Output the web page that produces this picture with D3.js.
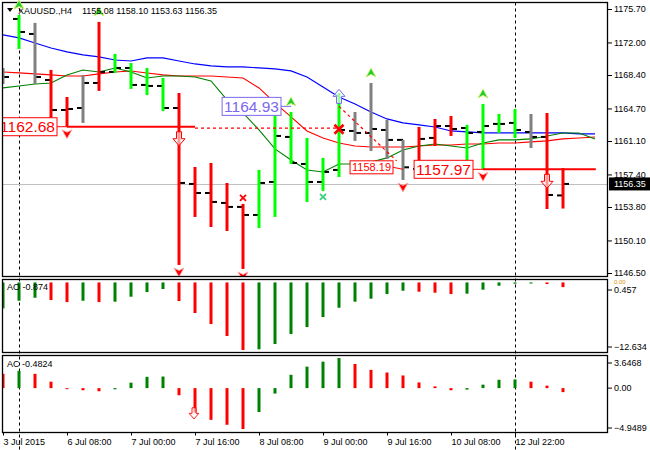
<!DOCTYPE html>
<html><head><meta charset="utf-8">
<script src="https://cdn.jsdelivr.net/npm/d3@7"></script>
<style>
body{margin:0;background:#fff}
svg{display:block}
text{font-family:"Liberation Sans",Arial,sans-serif}
</style>
</head><body>
<svg id="c" width="650" height="450"></svg>
<script>
// ---------------- data ----------------
const symbol = "XAUUSD.,H4";
const lastOHLC = ["1155.08", "1158.10", "1153.63", "1156.35"];
const timeIdx = [0, 4, 8, 12, 16, 20, 24, 28, 32];
const timeText = ["3 Jul 2015", "6 Jul 08:00", "7 Jul 00:00", "7 Jul 16:00", "8 Jul 08:00",
                  "9 Jul 00:00", "9 Jul 16:00", "10 Jul 08:00", "12 Jul 22:00"];
const priceTicks = [1175.70, 1172.00, 1168.40, 1164.70, 1161.10, 1157.40, 1153.80, 1150.10, 1146.50];
const lastPrice = 1156.35;

const open  = [1168.41,1174.60,1172.94,1167.85,1164.53,1164.75,1167.52,1168.74,1169.18,1167.30,1167.19,1164.75,1156.35,1155.35,1154.25,1153.81,1152.92,1156.57,1161.55,1158.56,1156.57,1157.90,1162.21,1161.99,1162.32,1161.22,1158.01,1161.44,1162.76,1162.54,1162.10,1162.99,1163.10,1162.10,1161.55,1155.08];
const high  = [1169.18,1175.04,1174.16,1168.96,1165.97,1168.41,1174.27,1170.73,1169.73,1169.18,1168.07,1166.41,1158.23,1158.67,1156.46,1154.14,1157.90,1164.20,1164.31,1161.44,1159.23,1166.41,1164.31,1167.52,1163.43,1161.22,1162.65,1163.54,1163.87,1162.88,1165.20,1164.09,1164.64,1164.09,1164.20,1158.10];
const low   = [1167.41,1171.28,1167.41,1163.21,1162.68,1163.10,1166.64,1168.63,1166.86,1166.19,1164.42,1147.39,1152.70,1151.59,1151.15,1146.95,1151.48,1152.70,1158.56,1154.36,1155.58,1157.12,1161.11,1160.00,1159.11,1156.79,1157.35,1160.55,1161.66,1158.67,1157.97,1161.99,1161.44,1160.33,1153.58,1153.63];
const close = [1168.18,1173.16,1168.18,1164.53,1164.64,1167.52,1168.74,1169.18,1167.30,1167.19,1164.75,1156.46,1155.35,1154.36,1153.81,1152.92,1156.46,1161.66,1158.67,1156.57,1157.68,1162.32,1161.99,1162.43,1161.22,1158.19,1161.33,1162.76,1162.43,1161.99,1162.76,1162.99,1162.32,1161.55,1155.13,1156.35];
// bar zone colour: g = AO & AC up, r = AO & AC down, n = mixed
const zone = ["n","g","n","r","r","n","r","g","g","g","g","r","r","r","r","r","g","g","g","g","g","g","n","n","n","n","r","r","r","g","g","g","g","n","r","r"];

// Alligator lines (shifted, extend beyond last bar)
const jaw   = [1172.83,1172.50,1171.94,1171.39,1170.95,1170.62,1170.40,1170.06,1169.95,1170.29,1170.29,1169.95,1169.62,1169.40,1169.29,1169.29,1169.18,1169.07,1168.85,1168.18,1167.08,1165.97,1165.20,1164.31,1163.54,1163.10,1162.88,1162.65,1162.21,1162.10,1161.99,1161.99,1161.99,1161.99,1161.99,1161.99,1161.88,1161.88];
const teeth = [1168.74,1168.63,1168.52,1168.41,1168.29,1168.29,1168.52,1168.74,1168.85,1168.63,1168.41,1168.29,1168.29,1168.29,1168.18,1168.07,1166.97,1165.31,1163.76,1162.21,1161.44,1160.88,1160.55,1160.44,1160.44,1160.44,1160.55,1160.66,1160.66,1160.77,1160.77,1160.88,1160.88,1161.00,1161.11,1161.33,1161.44,1161.55];
const lips  = [1166.97,1167.19,1167.41,1167.52,1168.41,1168.96,1168.74,1169.18,1168.74,1168.07,1168.29,1168.29,1168.18,1167.74,1165.64,1164.20,1162.32,1160.22,1159.00,1157.90,1157.68,1158.56,1158.56,1158.78,1159.23,1160.11,1160.55,1160.77,1160.55,1160.33,1160.88,1161.22,1161.22,1161.33,1161.66,1161.99,1161.99,1161.33];

const ao = [-4.85,-3.42,-2.86,-3.29,-3.67,-3.42,-3.67,-3.60,-2.67,-1.80,-1.23,-3.48,-5.72,-7.78,-10.02,-12.634,-12.50,-11.52,-9.65,-8.34,-6.47,-4.73,-3.60,-3.04,-2.17,-1.55,-1.73,-1.92,-2.17,-2.10,-1.36,-0.61,-0.24,-0.20,-0.30,-0.874];
const ac = [1.73,2.09,1.73,0.78,-0.08,-0.26,-0.38,-0.14,0.66,1.37,1.40,-0.86,-2.96,-3.84,-4.44,-4.9489,-2.89,-0.66,1.61,2.60,3.20,3.6468,2.92,2.21,1.89,1.53,0.69,0.21,-0.26,-0.18,0.42,1.01,1.05,0.78,0.30,-0.4824];
const aoRange = [-12.634, 0.457];
const acRange = [-4.9489, 3.6468];

const fractalUp = [1, 6, 18, 23, 30];
const fractalDown = [4, 11, 15, 25, 30];
const separators = [1, 32];

const levels = [
  {label: "1162.68", price: 1162.68, bar: 4},
  {label: "1164.93", price: 1164.93, bar: 18},
  {label: "1158.19", price: 1158.19, bar: 25},
  {label: "1157.97", price: 1157.97, bar: 30}
];
const signalsDown = [{bar: 11, price: 1162.68}, {bar: 34, price: 1157.97}];
const signalsUp = [{bar: 21, price: 1164.93}];
const crosses = [{bar: 15, price: 1154.80, kind: "r"}, {bar: 21, price: 1162.40, kind: "R"}, {bar: 20, price: 1154.91, kind: "c"}];

// ---------------- drawing ----------------
const svg = d3.select("#c");
const C = {green: "#00ff00", red: "#ff0000", grey: "#808080", dgreen: "#008000"};
const zoneColor = {g: C.green, r: C.red, n: C.grey};

const x = d3.scaleLinear().domain([0, 35]).range([3, 563]);
const y = d3.scaleLinear().domain([1146.50, 1175.70]).range([273, 9]);
const yAO = d3.scaleLinear().domain(aoRange).range([350, 280]);
const yAC = d3.scaleLinear().domain(acRange).range([429, 358]);

const P = {l: 2.5, r: 607.5, mt: 2.5, mb: 276.5, at: 279.5, ab: 352.5, ct: 355.5, cb: 432.5};

const defs = svg.append("defs");
defs.append("clipPath").attr("id", "cm").append("rect").attr("x", 3).attr("y", 3).attr("width", 604).attr("height", 273);
defs.append("clipPath").attr("id", "ca").append("rect").attr("x", 3).attr("y", 280).attr("width", 604).attr("height", 72);
defs.append("clipPath").attr("id", "cc").append("rect").attr("x", 3).attr("y", 356).attr("width", 604).attr("height", 76);

svg.append("rect").attr("width", 650).attr("height", 450).attr("fill", "#fff");

// separators
svg.append("g").selectAll("line").data(separators).join("line")
  .attr("x1", d => x(d) + 0.5).attr("x2", d => x(d) + 0.5)
  .attr("y1", P.mt).attr("y2", 450)
  .attr("stroke", "#000").attr("stroke-width", 1).attr("stroke-dasharray", "3,3");

const gm = svg.append("g").attr("clip-path", "url(#cm)");

// current price line
gm.append("line").attr("x1", 0).attr("x2", 608)
  .attr("y1", Math.round(y(lastPrice)) + 0.5).attr("y2", Math.round(y(lastPrice)) + 0.5)
  .attr("stroke", "#c0c0c0").attr("stroke-width", 1);

// alligator
const line = d3.line().x((d, i) => x(i)).y(d => y(d));
[[jaw, "#0000ff", 1.2], [teeth, "#ff0000", 1.1], [lips, "#008000", 1.1]].forEach(([arr, col, w]) => {
  gm.append("path").datum(arr).attr("d", line).attr("fill", "none").attr("stroke", col).attr("stroke-width", w);
});

// bars: black open/close ticks, then colored high-low line
const idx = d3.range(open.length);
gm.append("g").selectAll("rect.o").data(idx).join("rect")
  .attr("x", i => x(i) - 6).attr("width", 6)
  .attr("y", i => y(open[i]) - 1).attr("height", 2).attr("fill", "#000");
gm.append("g").selectAll("rect.c").data(idx).join("rect")
  .attr("x", i => x(i)).attr("width", 6)
  .attr("y", i => y(close[i]) - 1).attr("height", 2).attr("fill", "#000");
gm.append("g").selectAll("line").data(idx).join("line")
  .attr("x1", i => x(i)).attr("x2", i => x(i))
  .attr("y1", i => y(high[i])).attr("y2", i => y(low[i]))
  .attr("stroke", i => zoneColor[zone[i]]).attr("stroke-width", 3);

// level lines
const L1 = levels[0], L4 = levels[3], L2 = levels[1];
gm.append("line").attr("x1", x(L1.bar)).attr("x2", x(12)).attr("y1", y(L1.price)).attr("y2", y(L1.price))
  .attr("stroke", C.red).attr("stroke-width", 2);
gm.append("line").attr("x1", x(12)).attr("x2", x(21)).attr("y1", y(L1.price) + 1.5).attr("y2", y(L1.price) + 1.5)
  .attr("stroke", C.red).attr("stroke-width", 1.2).attr("stroke-dasharray", "3,3");
gm.append("line").attr("x1", x(L4.bar)).attr("x2", x(37.05)).attr("y1", y(L4.price)).attr("y2", y(L4.price))
  .attr("stroke", C.red).attr("stroke-width", 2);
gm.append("line").attr("x1", x(21)).attr("x2", x(24.6)).attr("y1", y(L2.price)).attr("y2", y(1158.9))
  .attr("stroke", C.red).attr("stroke-width", 1.2).attr("stroke-dasharray", "3,3");

// level label boxes
levels.forEach(lv => {
  const big = lv.label !== "1158.19";
  const col = lv.label === "1164.93" ? "#7b68ee" : "#ff0000";
  const fs = big ? 15.5 : 11;
  const bh = big ? 18 : 13;
  const right = x(lv.bar) - 10;
  const cy = y(lv.price);
  const g = gm.append("g");
  const t = g.append("text").attr("x", right - 2).attr("y", cy).attr("dy", "0.36em")
    .attr("text-anchor", "end").attr("font-size", fs).attr("fill", col).text(lv.label);
  const tw = t.node().getComputedTextLength();
  g.insert("rect", "text").attr("x", right - tw - 4).attr("y", cy - bh / 2).attr("width", tw + 4).attr("height", bh)
    .attr("fill", "#fff").attr("stroke", col).attr("stroke-width", 1);
  g.append("line").attr("x1", right).attr("x2", x(lv.bar)).attr("y1", cy).attr("y2", cy + (big ? 0 : 2))
    .attr("stroke", col).attr("stroke-width", 1);
});

// fractals
const chevUp = (cx, cy) => `M${cx},${cy - 5}L${cx + 5},${cy + 4}L${cx},${cy + 1.5}L${cx - 5},${cy + 4}Z`;
const chevDn = (cx, cy) => `M${cx},${cy + 5}L${cx + 5},${cy - 4}L${cx},${cy - 1.5}L${cx - 5},${cy - 4}Z`;
gm.append("g").selectAll("path").data(fractalUp).join("path")
  .attr("d", i => chevUp(x(i), y(high[i]) - 10))
  .attr("fill", "#22cc33").attr("stroke", "#d8f070").attr("stroke-width", 0.9);
gm.append("g").selectAll("path").data(fractalDown).join("path")
  .attr("d", i => chevDn(x(i), y(low[i]) + 7))
  .attr("fill", "#ff0000").attr("stroke", "#ffb0b0").attr("stroke-width", 0.9);

// hollow block arrows
const arrowDn = (cx, y0) => `M${cx - 2.5},${y0}H${cx + 2.5}V${y0 + 7}H${cx + 6}L${cx},${y0 + 14}L${cx - 6},${y0 + 7}H${cx - 2.5}Z`;
const arrowUp = (cx, y1) => `M${cx - 2.5},${y1}H${cx + 2.5}V${y1 - 7}H${cx + 6}L${cx},${y1 - 14}L${cx - 6},${y1 - 7}H${cx - 2.5}Z`;
gm.append("g").selectAll("path").data(signalsDown).join("path")
  .attr("d", d => arrowDn(x(d.bar), y(d.price) + 5))
  .attr("fill", "#fff").attr("fill-opacity", 0.6).attr("stroke", C.red).attr("stroke-width", 1);
gm.append("g").selectAll("path").data(signalsUp).join("path")
  .attr("d", d => arrowUp(x(d.bar), y(d.price) - 3))
  .attr("fill", "#fff").attr("fill-opacity", 0.6).attr("stroke", "#7b68ee").attr("stroke-width", 1);

// crosses
crosses.forEach(c => {
  const cx = x(c.bar), cy = y(c.price);
  const s = c.kind === "R" ? 4.5 : 3;
  const col = c.kind === "c" ? "#3ad27a" : C.red;
  const w = c.kind === "R" ? 2.6 : 1.8;
  gm.append("path").attr("d", `M${cx - s},${cy - s}L${cx + s},${cy + s}M${cx + s},${cy - s}L${cx - s},${cy + s}`)
    .attr("stroke", col).attr("stroke-width", w).attr("fill", "none");
});

// AO panel
const ga = svg.append("g").attr("clip-path", "url(#ca)");
ga.selectAll("rect").data(idx).join("rect")
  .attr("x", i => x(i) - 1.5).attr("width", 3)
  .attr("y", i => Math.min(yAO(0), yAO(ao[i])))
  .attr("height", i => Math.max(1, Math.abs(yAO(ao[i]) - yAO(0))))
  .attr("fill", i => (i === 0 || ao[i] > ao[i - 1]) ? C.dgreen : C.red);

// AC panel
const gc = svg.append("g").attr("clip-path", "url(#cc)");
gc.selectAll("rect").data(idx).join("rect")
  .attr("x", i => x(i) - 1.5).attr("width", 3)
  .attr("y", i => Math.min(yAC(0), yAC(ac[i])))
  .attr("height", i => Math.max(1, Math.abs(yAC(ac[i]) - yAC(0))))
  .attr("fill", i => (i > 0 && ac[i] > ac[i - 1]) ? C.dgreen : C.red);
gc.append("path").attr("d", arrowDn(x(12) - 1, yAC(ac[12]) - 6))
  .attr("transform", `translate(${x(12) - 1},${yAC(ac[12])}) scale(0.8) translate(${-(x(12) - 1)},${-yAC(ac[12])})`)
  .attr("fill", "#fff").attr("fill-opacity", 0.6).attr("stroke", C.red).attr("stroke-width", 1.1);

// panel borders
[[P.mt, P.mb], [P.at, P.ab], [P.ct, P.cb]].forEach(([t, b]) => {
  svg.append("rect").attr("x", P.l).attr("y", t).attr("width", P.r - P.l).attr("height", b - t)
    .attr("fill", "none").attr("stroke", "#000").attr("stroke-width", 1.3);
});

// axes
const fs = 9;
const ya = svg.append("g").attr("transform", `translate(608,0)`)
  .call(d3.axisRight(y).tickValues(priceTicks).tickSize(4).tickPadding(2).tickFormat(d3.format(".2f")));
ya.select(".domain").remove();
ya.selectAll("text").attr("font-size", fs).attr("font-family", "Liberation Sans, Arial").attr("fill", "#000");

// current price tag
const ly = y(lastPrice);
svg.append("rect").attr("x", 609).attr("y", ly - 6.5).attr("width", 41).attr("height", 13).attr("fill", "#000");
svg.append("text").attr("x", 614).attr("y", ly).attr("dy", "0.36em").attr("font-size", fs).attr("fill", "#fff").text(lastPrice.toFixed(2));

// AO axis labels
svg.append("text").attr("x", 614).attr("y", 281.5).attr("dy", "0.36em").attr("font-size", 6)
  .attr("fill", "#e09000").text("0.00");
const aoAx = svg.append("g").attr("transform", `translate(608,0)`)
  .call(d3.axisRight(yAO).tickValues(aoRange.slice().reverse()).tickSize(4).tickPadding(2).tickFormat(d3.format(".3f")));
aoAx.select(".domain").remove();
aoAx.selectAll("text").attr("font-size", fs).attr("font-family", "Liberation Sans, Arial").attr("fill", "#000");
aoAx.selectAll(".tick").attr("transform", d => `translate(0,${d > 0 ? yAO(d) + 10 : yAO(d) - 3})`);

// AC axis labels
const acAx = svg.append("g").attr("transform", `translate(608,0)`)
  .call(d3.axisRight(yAC).tickValues([acRange[1], 0, acRange[0]]).tickSize(4).tickPadding(2)
    .tickFormat(d => d === 0 ? "0.00" : d3.format(".4f")(d)));
acAx.select(".domain").remove();
acAx.selectAll("text").attr("font-size", fs).attr("font-family", "Liberation Sans, Arial").attr("fill", "#000");
acAx.selectAll(".tick").attr("transform", d => `translate(0,${d > 0 ? yAC(d) + 5 : (d < 0 ? yAC(d) - 1 : yAC(d))})`);

// time axis
const xa = svg.append("g").attr("transform", `translate(0,${P.cb})`)
  .call(d3.axisBottom(x).tickValues(timeIdx).tickSize(3).tickPadding(3).tickFormat((d, i) => timeText[i]));
xa.select(".domain").remove();
xa.selectAll("text").attr("font-size", fs).attr("font-family", "Liberation Sans, Arial").attr("fill", "#000")
  .attr("text-anchor", "start").attr("x", 0);

// header
svg.append("path").attr("d", "M7,8L13,8L10,12Z").attr("fill", "#000");
svg.append("text").attr("x", 18).attr("y", 11).attr("dy", "0.36em").attr("font-size", fs).attr("fill", "#000").text(symbol);
svg.append("text").attr("x", 82).attr("y", 11).attr("dy", "0.36em").attr("font-size", fs).attr("fill", "#000").text(lastOHLC.join(" "));
svg.append("path").attr("d", chevUp(x(1), y(high[1]) - 10)).attr("fill", "#22cc33").attr("stroke", "#d8f070").attr("stroke-width", 0.9);

// indicator labels
svg.append("text").attr("x", 7).attr("y", 287).attr("dy", "0.36em").attr("font-size", fs).attr("fill", "#000").text("AO " + ao[ao.length - 1].toFixed(3));
svg.append("text").attr("x", 7).attr("y", 364).attr("dy", "0.36em").attr("font-size", fs).attr("fill", "#000").text("AC " + ac[ac.length - 1].toFixed(4));
</script>
</body></html>
